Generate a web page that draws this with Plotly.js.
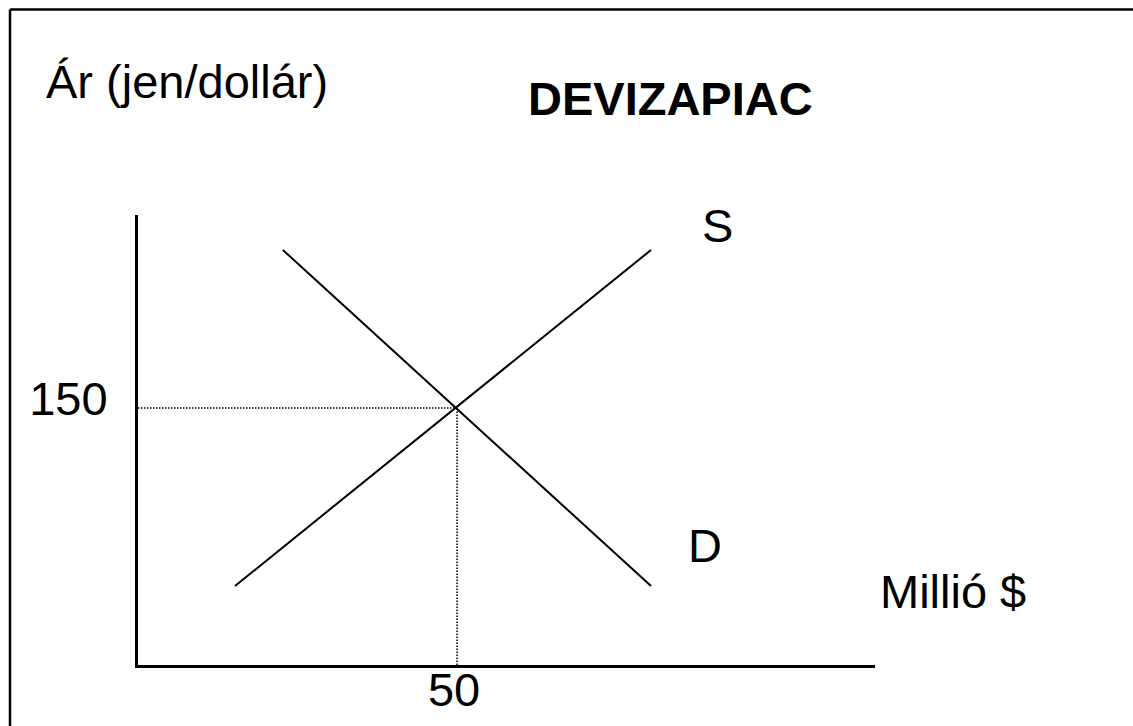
<!DOCTYPE html>
<html>
<head>
<meta charset="utf-8">
<script src="https://cdn.plot.ly/plotly-3.0.1.min.js"></script>
<style>
  html, body { margin: 0; padding: 0; background: #ffffff; overflow: hidden; }
  #chart { width: 1133px; height: 726px; }
</style>
</head>
<body>
<div id="chart"></div>
<script>
/* ---- data ---- */
const eqQuantity = 50;     // Millió $
const eqPrice = 150;       // jen/dollár

const supplyQ = [15.2, 80.4];
const supplyP = [46.1, 242.3];
const demandQ = [22.7, 80.4];
const demandP = [242.3, 46.1];

const curveNames = ['S', 'D'];
const chartTitle = 'DEVIZAPIAC';
const yLabel = 'Ár (jen/dollár)';
const xLabel = 'Millió $';

/* ---- layout helpers (pixel -> paper) ---- */
const W = 1133, H = 726;
const M = { l: 138, r: 258, t: 215, b: 61 };
const plotW = W - M.l - M.r, plotH = H - M.t - M.b;
const px = (x) => (x - M.l) / plotW;
const py = (y) => (H - M.b - y) / plotH;

const FONT = 'Liberation Sans, Arial, Helvetica, sans-serif';
const lineStyle = { color: '#000000', width: 2 };
const guideStyle = { color: '#000000', width: 1.5, dash: '1.5px,1.5px' };

const traces = [
  { x: supplyQ, y: supplyP, mode: 'lines', line: lineStyle, name: curveNames[0], type: 'scatter' },
  { x: demandQ, y: demandP, mode: 'lines', line: lineStyle, name: curveNames[1], type: 'scatter' },
  // dotted guides to the equilibrium
  { x: [0, eqQuantity], y: [eqPrice, eqPrice], mode: 'lines', line: guideStyle, type: 'scatter', hoverinfo: 'skip' },
  { x: [eqQuantity, eqQuantity], y: [0, eqPrice], mode: 'lines', line: guideStyle, type: 'scatter', hoverinfo: 'skip' }
];

const annot = (text, x, y, opts) => Object.assign({
  text, xref: 'paper', yref: 'paper', x: px(x), y: py(y),
  showarrow: false, xanchor: 'center', yanchor: 'middle',
  font: { family: FONT, size: 47, color: '#000000' }
}, opts || {});

const frameLine = { color: '#000000', width: 2.5 };

const layout = {
  width: W, height: H,
  margin: M,
  paper_bgcolor: '#ffffff',
  plot_bgcolor: '#ffffff',
  showlegend: false,
  font: { family: FONT, color: '#000000' },
  xaxis: {
    range: [0, 115.5], showgrid: false, zeroline: false,
    showline: true, linecolor: '#000000', linewidth: 3,
    tickvals: [eqQuantity], ticktext: [String(eqQuantity)], ticks: '',
    tickfont: { family: FONT, size: 47, color: '#000000' },
    ticklabelstandoff: -18, ticklabelshift: -3
  },
  yaxis: {
    range: [0, 262.7], showgrid: false, zeroline: false,
    showline: true, linecolor: '#000000', linewidth: 3,
    tickvals: [eqPrice], ticktext: [String(eqPrice)], ticks: '',
    tickfont: { family: FONT, size: 47, color: '#000000' },
    ticklabelstandoff: 18, ticklabelshift: -10
  },
  annotations: [
    annot(yLabel, 44, 81, { xanchor: 'left' }),
    annot('<b>' + chartTitle + '</b>', 670, 99),
    annot(curveNames[0], 717, 225),
    annot(curveNames[1], 705, 545),
    annot(xLabel, 878, 591, { xanchor: 'left' })
  ],
  shapes: [
    // outer frame: only the top and left sides fall inside the picture
    { type: 'line', xref: 'paper', yref: 'paper', x0: px(10), x1: px(1133), y0: py(9.5), y1: py(9.5), line: frameLine },
    { type: 'line', xref: 'paper', yref: 'paper', x0: px(10), x1: px(10), y0: py(9.5), y1: py(726), line: frameLine }
  ]
};

Plotly.newPlot('chart', traces, layout, { displayModeBar: false, staticPlot: true });
</script>
</body>
</html>
